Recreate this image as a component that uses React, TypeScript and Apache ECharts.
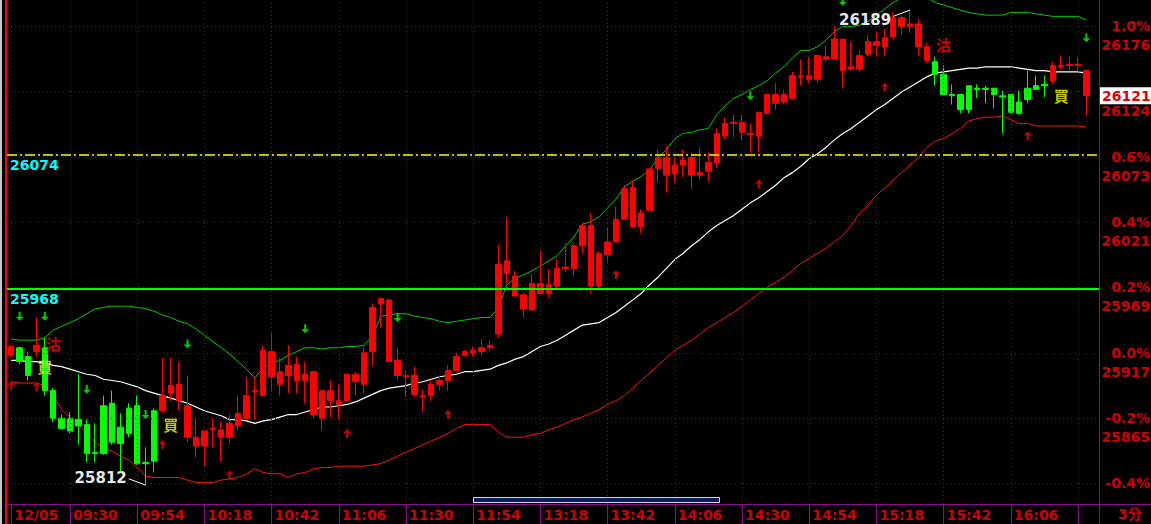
import React, { useEffect, useRef } from 'react';
import * as echarts from 'echarts';

// ---------- axis definitions ----------
const BASE_PRICE = 25917; // 0.0% reference
const Y_MIN = 25797;
const Y_MAX = 26197;
const SLOT_COUNT = 130; // 129 bars + one empty slot at the right

function buildTimes(): string[] {
  const out: string[] = [];
  for (let i = 0; i < SLOT_COUNT; i++) {
    let t = 9 * 60 + 9 + 3 * i;
    if (t > 12 * 60) t += 60; // lunch break
    const h = Math.floor(t / 60);
    const m = t % 60;
    out.push(`${String(h).padStart(2, '0')}:${String(m).padStart(2, '0')}`);
  }
  return out;
}
const categories = buildTimes();
const tickIndices = [0, 7, 15, 23, 31, 39, 47, 55, 63, 71, 79, 87, 95, 103, 111, 119, 127];
const unlabeledTicks = [127];
const dateLabel = '12/05';
const pctLevels = [1.0, 0.8, 0.6, 0.4, 0.2, 0.0, -0.2, -0.4];
const hiddenPctLabels = [0.8]; // covered by the last-price tag

// ---------- candles ----------
const opens = [
  25915, 25921, 25914, 25918, 25921, 25887, 25865, 25865, 25864, 25860,
  25838, 25875, 25877, 25858, 25873, 25875, 25830, 25871, 25871, 25885,
  25879, 25850, 25843, 25843, 25856, 25850, 25850, 25859, 25865, 25886,
  25883, 25898, 25892, 25899, 25895, 25895, 25868, 25865, 25879, 25876,
  25879, 25894, 25892, 25918, 25956, 25959, 25911, 25898, 25899, 25883,
  25883, 25892, 25895, 25903, 25915, 25917, 25918, 25921, 25932, 25980,
  25978, 25963, 25951, 25964, 25971, 25970, 25984, 25984, 26002, 26018,
  25970, 25995, 26005, 26023, 26048, 26017, 26030, 26063, 26072, 26059,
  26066, 26072, 26060, 26061, 26068, 26089, 26099, 26100, 26091, 26089,
  26107, 26115, 26122, 26119, 26136, 26134, 26134, 26150, 26150, 26166,
  26142, 26142, 26154, 26161, 26160, 26168, 26183, 26176, 26178, 26160,
  26148, 26138, 26122, 26122, 26129, 26127, 26127, 26127, 26121, 26122,
  26116, 26127, 26129, 26130, 26133, 26144, 26145, 26145, 26141,
];
const closes = [
  25922, 25910, 25899, 25923, 25887, 25865, 25857, 25855, 25859, 25837,
  25837, 25837, 25846, 25845, 25853, 25829, 25829, 25831, 25883, 25891,
  25892, 25875, 25850, 25855, 25857, 25856, 25861, 25869, 25883, 25887,
  25919, 25918, 25902, 25907, 25908, 25900, 25902, 25887, 25887, 25879,
  25900, 25900, 25917, 25953, 25960, 25910, 25899, 25899, 25884, 25882,
  25892, 25895, 25903, 25914, 25918, 25919, 25921, 25923, 25987, 25990,
  25962, 25952, 25972, 25972, 25964, 25984, 25985, 26002, 26018, 25970,
  25996, 26005, 26023, 26047, 26017, 26028, 26063, 26072, 26058, 26066,
  26070, 26058, 26058, 26068, 26091, 26099, 26100, 26092, 26090, 26108,
  26122, 26122, 26116, 26137, 26137, 26137, 26153, 26152, 26166, 26141,
  26144, 26153, 26164, 26164, 26167, 26183, 26176, 26178, 26160, 26149,
  26138, 26122, 26121, 26110, 26110, 26126, 26126, 26122, 26120, 26108,
  26107, 26118, 26126, 26129, 26145, 26145, 26146, 26146, 26121,
];
const lows = [
  25914, 25908, 25895, 25914, 25883, 25862, 25856, 25853, 25844, 25830,
  25830, 25836, 25844, 25822, 25850, 25828, 25812, 25822, 25869, 25879,
  25871, 25846, 25834, 25827, 25842, 25831, 25845, 25855, 25864, 25864,
  25883, 25887, 25883, 25885, 25885, 25877, 25865, 25855, 25866, 25864,
  25879, 25883, 25885, 25907, 25937, 25910, 25895, 25882, 25882, 25870,
  25879, 25887, 25887, 25902, 25914, 25914, 25914, 25918, 25929, 25972,
  25962, 25945, 25951, 25964, 25961, 25967, 25981, 25978, 25996, 25964,
  25968, 25989, 26005, 26023, 26017, 26012, 26030, 26052, 26044, 26052,
  26056, 26047, 26054, 26053, 26064, 26086, 26088, 26086, 26076, 26076,
  26107, 26110, 26114, 26118, 26129, 26131, 26131, 26148, 26150, 26127,
  26141, 26140, 26152, 26152, 26153, 26166, 26169, 26171, 26153, 26147,
  26129, 26122, 26114, 26107, 26107, 26119, 26115, 26111, 26091, 26107,
  26106, 26115, 26126, 26120, 26130, 26142, 26141, 26141, 26105,
];
const highs = [
  25923, 25922, 25918, 25945, 25929, 25889, 25868, 25870, 25900, 25864,
  25861, 25883, 25887, 25869, 25877, 25883, 25842, 25873, 25913, 25913,
  25910, 25899, 25866, 25855, 25865, 25862, 25868, 25883, 25898, 25897,
  25923, 25933, 25913, 25923, 25914, 25910, 25903, 25887, 25895, 25892,
  25900, 25902, 25922, 25956, 25960, 25959, 25921, 25903, 25906, 25888,
  25895, 25899, 25907, 25917, 25919, 25922, 25928, 25927, 26003, 26025,
  25982, 25965, 25980, 25998, 25983, 25991, 26004, 26004, 26020, 26028,
  25998, 26016, 26033, 26050, 26054, 26031, 26063, 26078, 26081, 26072,
  26078, 26076, 26080, 26076, 26095, 26104, 26106, 26106, 26099, 26108,
  26123, 26131, 26126, 26140, 26150, 26152, 26153, 26161, 26176, 26166,
  26164, 26157, 26169, 26172, 26174, 26187, 26185, 26189, 26182, 26163,
  26152, 26145, 26130, 26122, 26129, 26130, 26129, 26127, 26125, 26122,
  26125, 26141, 26137, 26137, 26148, 26153, 26152, 26152, 26141,
];
// candle colour state (signal based): start index -> colour
const colorRuns: [number, 'R' | 'G'][] = [[0, 'R'], [1, 'G'], [3, 'R'], [4, 'G'], [18, 'R'], [110, 'G'], [124, 'R']];

// ---------- Bollinger bands ----------
const upperBand = [
  25928, 25927, 25927, 25927, 25929, 25935, 25938, 25941, 25944, 25948,
  25952, 25953, 25954, 25954, 25954, 25953, 25952, 25950, 25947, 25945,
  25942, 25940, 25936, 25931, 25926, 25921, 25916, 25910, 25904, 25897,
  25905, 25909, 25911, 25915, 25918, 25921, 25921, 25920, 25921, 25921,
  25922, 25922, 25923, 25930, 25946, 25947, 25948, 25948, 25946, 25945,
  25944, 25942, 25941, 25942, 25943, 25944, 25945, 25945, 25953, 25971,
  25976, 25979, 25982, 25986, 25990, 25994, 26002, 26009, 26019, 26021,
  26025, 26032, 26039, 26049, 26053, 26057, 26062, 26072, 26078, 26087,
  26091, 26092, 26094, 26095, 26106, 26113, 26119, 26122, 26126, 26129,
  26133, 26139, 26144, 26151, 26157, 26157, 26160, 26165, 26172, 26176,
  26176, 26177, 26180, 26185, 26190, 26195, 26199, 26201, 26200, 26199,
  26195, 26193, 26191, 26189, 26187, 26186, 26185, 26185, 26185, 26187,
  26187, 26187, 26186, 26185, 26184, 26184, 26184, 26184, 26181,
];
const middleBand = [
  25911, 25911, 25910, 25910, 25909, 25907, 25906, 25904, 25902, 25900,
  25899, 25896, 25895, 25894, 25892, 25890, 25887, 25885, 25883, 25881,
  25879, 25877, 25874, 25871, 25869, 25867, 25864, 25864, 25863, 25861,
  25863, 25864, 25866, 25868, 25868, 25870, 25872, 25874, 25874, 25875,
  25876, 25878, 25881, 25884, 25887, 25889, 25890, 25891, 25893, 25894,
  25896, 25898, 25899, 25900, 25902, 25902, 25903, 25904, 25907, 25909,
  25912, 25914, 25918, 25922, 25924, 25927, 25931, 25935, 25939, 25940,
  25941, 25945, 25949, 25954, 25959, 25964, 25971, 25977, 25984, 25991,
  25996, 26002, 26007, 26013, 26018, 26022, 26026, 26031, 26036, 26040,
  26045, 26050, 26056, 26060, 26065, 26071, 26075, 26080, 26086, 26091,
  26095, 26100, 26105, 26110, 26114, 26119, 26124, 26128, 26132, 26136,
  26139, 26140, 26141, 26142, 26143, 26143, 26144, 26144, 26144, 26144,
  26143, 26142, 26141, 26141, 26140, 26140, 26140, 26140, 26139,
];
const lowerBand = [
  25894, 25893, 25893, 25893, 25891, 25883, 25872, 25866, 25860, 25854,
  25846, 25841, 25839, 25835, 25832, 25826, 25819, 25818, 25818, 25818,
  25818, 25816, 25814, 25814, 25814, 25816, 25817, 25818, 25821, 25825,
  25822, 25821, 25821, 25818, 25821, 25822, 25825, 25826, 25826, 25827,
  25827, 25827, 25827, 25828, 25829, 25832, 25835, 25838, 25841, 25844,
  25847, 25850, 25853, 25857, 25860, 25860, 25860, 25860, 25854, 25850,
  25850, 25850, 25852, 25853, 25856, 25858, 25861, 25864, 25866, 25869,
  25872, 25876, 25879, 25883, 25889, 25895, 25901, 25907, 25913, 25919,
  25923, 25927, 25932, 25937, 25941, 25945, 25949, 25954, 25959, 25964,
  25969, 25973, 25977, 25982, 25988, 25992, 25996, 26000, 26005, 26010,
  26018, 26028, 26034, 26042, 26048, 26054, 26060, 26066, 26072, 26080,
  26085, 26087, 26091, 26095, 26101, 26103, 26104, 26104, 26105, 26102,
  26099, 26099, 26097, 26097, 26097, 26097, 26097, 26097, 26096,
];

// ---------- markers ----------
const downArrows: [number, number][] = [[1, 25946], [4, 25946], [9, 25888], [16, 25868], [21, 25924], [35, 25936], [46, 25945], [88, 26121], [99, 26196], [128, 26167]];
const upArrows: [number, number][] = [[0, 25891], [3, 25890], [18, 25844], [26, 25820], [40, 25853], [52, 25868], [72, 25979], [89, 26051], [104, 26128], [121, 26089]];
const buySignals: [number, number][] = [[4, 25906], [19, 25860], [125, 26121]];
const sellSignals: [number, number][] = [[5, 25924], [111, 26162]];
const dayHigh = { value: 26189, index: 107, labelIndex: 105, labelPrice: 26181 };
const dayLow = { value: 25812, index: 16, labelIndex: 14, labelPrice: 25818 };
const lastPrice = 26121;
const refLines = [
  { value: 26074, color: '#ffff00', type: [10, 3, 2, 3], width: 1.5 },
  { value: 25968, color: '#00ff00', type: 'solid', width: 2 },
];

const RED = '#ff0000';
const GREEN = '#00ff00';
const AXIS_PURPLE = '#8a0f8a';
const AXIS_TEXT = '#d00000';
const FONT = 'DejaVu Sans';

function colorAt(i: number): string {
  let c = 'R';
  for (const [start, col] of colorRuns) if (i >= start) c = col;
  return c === 'R' ? RED : GREEN;
}

function buildOption(): any {
  const candleData = opens.map((o, i) => {
    const col = colorAt(i);
    return {
      value: [o, closes[i], lows[i], highs[i]],
      itemStyle: { color: col, color0: col, borderColor: col, borderColor0: col, borderWidth: 1 },
    };
  });

  const levelLines = pctLevels.map((p) => {
    const price = BASE_PRICE * (1 + p / 100);
    const pctText = `${p.toFixed(1)}%`;
    const showPrice = p > -0.3;
    const showPct = !hiddenPctLabels.includes(p);
    let formatter = `{p|${pctText}}`;
    let padding: any = 0;
    if (showPrice && showPct) {
      formatter = `{p|${pctText}}\n{v|${Math.round(price)}}`;
      padding = [19, 0, 0, 0];
    } else if (showPrice) {
      formatter = `{v|${Math.round(price)}}`;
      padding = [38, 0, 0, 0];
    }
    return { yAxis: price, label: { formatter, padding } };
  });

  const isTick = (idx: number) => tickIndices.includes(idx);

  return {
    animation: false,
    backgroundColor: '#000000',
    textStyle: { fontFamily: FONT },
    grid: { left: 7, top: 0, width: 1092, height: 504, containLabel: false },
    xAxis: {
      type: 'category',
      data: categories,
      boundaryGap: true,
      axisLine: { show: true, lineStyle: { color: AXIS_PURPLE, width: 1 } },
      axisTick: {
        show: true,
        alignWithLabel: true,
        length: 20,
        interval: (idx: number) => isTick(idx),
        lineStyle: { color: AXIS_PURPLE, width: 1 },
      },
      axisLabel: {
        show: true,
        interval: (idx: number) => isTick(idx) && !unlabeledTicks.includes(idx),
        formatter: (val: string, idx: number) => (idx === 0 ? dateLabel : val),
        align: 'left',
        padding: [0, 0, 0, 3],
        margin: 4,
        color: AXIS_TEXT,
        fontSize: 14,
        fontWeight: 'bold',
        fontFamily: FONT,
      },
      splitLine: { show: false },
    },
    yAxis: {
      type: 'value',
      position: 'right',
      min: Y_MIN,
      max: Y_MAX,
      scale: true,
      axisLine: { show: true, lineStyle: { color: AXIS_PURPLE, width: 1 } },
      axisTick: { show: false },
      axisLabel: { show: false },
      splitLine: { show: false },
    },
    graphic: [
      { type: 'rect', left: 0, top: 0, shape: { width: 2, height: 524 }, style: { fill: '#c8c8c8' }, silent: true },
      { type: 'rect', left: 5, top: 0, shape: { width: 2, height: 524 }, style: { fill: '#ff0000' }, silent: true },
      { type: 'line', shape: { x1: 1099.5, y1: 0, x2: 1099.5, y2: 524 }, style: { stroke: AXIS_PURPLE, lineWidth: 1 }, silent: true, z: 10 },
      { type: 'line', shape: { x1: 7, y1: 504.5, x2: 1151, y2: 504.5 }, style: { stroke: AXIS_PURPLE, lineWidth: 1 }, silent: true, z: 10 },
      { type: 'rect', shape: { x: 473.5, y: 497.5, width: 246, height: 5 }, style: { fill: '#0b1d5c', stroke: '#d8d8d8', lineWidth: 1 }, silent: true, z: 10 },
      {
        type: 'text', left: 1118, top: 507,
        style: { text: '3分', fill: AXIS_TEXT, font: `bold 14px "${FONT}", "Noto Sans CJK TC"` },
        silent: true, z: 10,
      },
    ],
    series: [
      {
        name: 'gridV',
        type: 'line',
        data: [],
        silent: true,
        z: 1,
        markLine: {
          silent: true,
          symbol: 'none',
          label: { show: false },
          lineStyle: { color: '#1a1aff', type: [1, 3], width: 1 },
          data: tickIndices.map((i) => ({ xAxis: categories[i] })),
        },
      },
      {
        name: 'gridH',
        type: 'line',
        data: [],
        silent: true,
        z: 1,
        markLine: {
          silent: true,
          symbol: 'none',
          lineStyle: { color: '#1a1aff', type: [1, 3], width: 1 },
          label: {
            show: true,
            position: 'end',
            distance: 2,
            color: AXIS_TEXT,
            fontWeight: 'bold',
            fontSize: 14,
            fontFamily: FONT,
            rich: {
              p: { width: 49, align: 'right', lineHeight: 19, color: AXIS_TEXT, fontWeight: 'bold', fontSize: 14, fontFamily: FONT },
              v: { width: 49, align: 'right', lineHeight: 19, color: AXIS_TEXT, fontWeight: 'bold', fontSize: 14, fontFamily: FONT },
            },
          },
          data: levelLines,
        },
      },
      {
        name: 'upper',
        type: 'line',
        data: upperBand,
        showSymbol: false,
        symbol: 'none',
        lineStyle: { color: '#00cc00', width: 1 },
        z: 2,
        silent: true,
      },
      {
        name: 'middle',
        type: 'line',
        data: middleBand,
        showSymbol: false,
        symbol: 'none',
        lineStyle: { color: '#ffffff', width: 1.2 },
        z: 2,
        silent: true,
      },
      {
        name: 'lower',
        type: 'line',
        data: lowerBand,
        showSymbol: false,
        symbol: 'none',
        lineStyle: { color: '#ff1010', width: 1 },
        z: 2,
        silent: true,
      },
      {
        name: 'kline',
        type: 'candlestick',
        data: candleData,
        barWidth: 6,
        z: 3,
        markPoint: {
          symbol: 'circle',
          symbolSize: 0,
          label: { show: true, position: 'left', distance: 2, color: '#e8e8e8', fontSize: 15, fontWeight: 'bold', fontFamily: FONT },
          data: [
            { coord: [categories[dayHigh.labelIndex], dayHigh.labelPrice], value: dayHigh.value, label: { formatter: String(dayHigh.value) } },
            { coord: [categories[dayLow.labelIndex], dayLow.labelPrice], value: dayLow.value, label: { formatter: String(dayLow.value) } },
          ],
        },
        markLine: {
          silent: true,
          symbol: 'none',
          lineStyle: { color: '#ffffff', width: 1, type: 'solid' },
          label: { show: false },
          data: [
            [
              { coord: [categories[dayHigh.labelIndex], dayHigh.labelPrice + 3] },
              { coord: [categories[dayHigh.index], dayHigh.value] },
            ],
            [
              { coord: [categories[dayLow.labelIndex], dayLow.labelPrice - 1] },
              { coord: [categories[dayLow.index], dayLow.value] },
            ],
          ],
        },
      },
      {
        name: 'lastPriceTag',
        type: 'line',
        data: [],
        silent: true,
        z: 8,
        markLine: {
          silent: true,
          symbol: 'none',
          lineStyle: { color: 'rgba(0,0,0,0)', width: 1 },
          label: {
            show: true,
            position: 'end',
            distance: 1,
            formatter: String(lastPrice),
            backgroundColor: '#ffffff',
            color: '#e00000',
            fontWeight: 'bold',
            fontSize: 14,
            fontFamily: FONT,
            padding: [2, 1, 1, 2],
          },
          data: [{ yAxis: lastPrice }],
        },
      },
      {
        name: 'down',
        type: 'scatter',
        data: downArrows.map(([i, v]) => [categories[i], v]),
        symbol: 'path://M3,0L5,0L5,5L8,5L4,9L0,5L3,5Z',
        symbolSize: [8, 9],
        itemStyle: { color: '#00ff00' },
        z: 4,
        silent: true,
      },
      {
        name: 'up',
        type: 'scatter',
        data: upArrows.map(([i, v]) => [categories[i], v]),
        symbol: 'path://M4,0L8,4L5,4L5,9L3,9L3,4L0,4Z',
        symbolSize: [8, 9],
        itemStyle: { color: '#ff0000' },
        z: 4,
        silent: true,
      },
      {
        name: 'buy',
        type: 'scatter',
        data: buySignals.map(([i, v]) => [categories[i], v]),
        symbolSize: 0,
        label: { show: true, position: 'inside', formatter: '買', color: '#ffff00', fontSize: 15, fontWeight: 'bold', fontFamily: 'Noto Sans CJK TC' },
        z: 6,
        silent: true,
      },
      {
        name: 'sell',
        type: 'scatter',
        data: sellSignals.map(([i, v]) => [categories[i], v]),
        symbolSize: 0,
        label: { show: true, position: 'inside', formatter: '沽', color: '#ff0000', fontSize: 15, fontWeight: 'bold', fontFamily: 'Noto Sans CJK TC' },
        z: 6,
        silent: true,
      },
      {
        name: 'refLines',
        type: 'line',
        data: [],
        silent: true,
        z: 5,
        markLine: {
          silent: true,
          symbol: 'none',
          data: refLines.map((r) => ({
            yAxis: r.value,
            lineStyle: { color: r.color, type: r.type, width: r.width },
            label: {
              show: true,
              position: 'insideStartBottom',
              distance: 3,
              formatter: String(r.value),
              color: '#00ffff',
              fontSize: 14,
              fontWeight: 'bold',
              fontFamily: FONT,
            },
          })),
        },
      },
    ],
  };
}

export default function App() {
  const ref = useRef<HTMLDivElement>(null);
  useEffect(() => {
    document.body.style.margin = '0';
    document.body.style.background = '#000';
    if (!ref.current) return;
    const chart = echarts.init(ref.current, null, { renderer: 'svg' });
    chart.setOption(buildOption());
    return () => chart.dispose();
  }, []);
  return <div ref={ref} style={{ width: 1151, height: 524 }} />;
}
